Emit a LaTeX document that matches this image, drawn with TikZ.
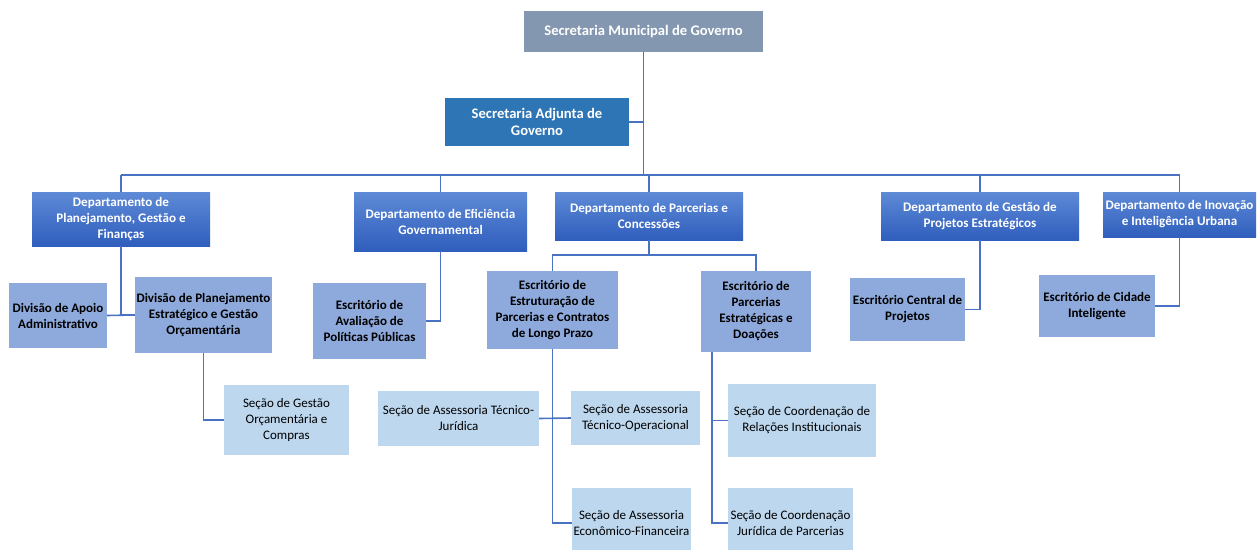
\documentclass[tikz,border=0pt]{standalone}
\usepackage{fontspec}
\setmainfont{Carlito}
\definecolor{topgray}{HTML}{8497B0}
\definecolor{adjblue}{HTML}{2E75B6}
\definecolor{deptop}{HTML}{5E8AD6}
\definecolor{depbot}{HTML}{2F5EBD}
\definecolor{lvlthree}{HTML}{8EA9DB}
\definecolor{lvlfour}{HTML}{BDD7EE}
\definecolor{linkblue}{HTML}{4A72C2}

% #1 style, #2 name, #3 left, #4 top, #5 right, #6 bottom, #7 text
\newcommand\orgbox[7]{%
  \node[#1, minimum width={#5pt-#3pt}, minimum height={#6pt-#4pt}]
    (#2) at ({(#3+#5)/2},{(#4+#6)/2}) {#7};}

\begin{document}
\begin{tikzpicture}[x=1pt,y=-1pt,
  box/.style={inner sep=0pt, align=center, font=\fontsize{13}{16.5}\selectfont},
  headbox/.style={box, fill=topgray, text=white, font=\fontsize{14.6}{17.5}\selectfont\bfseries},
  adjbox/.style={box, fill=adjblue, text=white, font=\fontsize{14.6}{17.7}\selectfont\bfseries},
  deptbox/.style={box, top color=deptop, bottom color=depbot, text=white, font=\fontsize{13.1}{16}\selectfont\bfseries},
  unitbox/.style={box, fill=lvlthree, text=black, font=\fontsize{13}{16}\selectfont\bfseries},
  secbox/.style={box, fill=lvlfour, text=black, font=\fontsize{13}{16}\selectfont},
  link/.style={draw=linkblue, line width=1.6pt}]
\clip (0,0) rectangle (1260,549);
\fill[white] (0,0) rectangle (1260,549);

% top levels
\orgbox{headbox}{smg}{524}{11}{763}{52}{Secretaria Municipal de Governo}
\orgbox{adjbox}{adj}{445}{98}{629}{146}{Secretaria Adjunta de\\Governo}

% departments
\orgbox{deptbox}{d1}{32}{192}{210}{246}{Departamento de\\Planejamento, Gestão e\\Finanças}
\orgbox{deptbox}{d2}{354}{192}{527}{251}{Departamento de Eficiência\\Governamental}
\orgbox{deptbox}{d3}{555}{192}{743}{240}{Departamento de Parcerias e\\Concessões}
\orgbox{deptbox}{d4}{881}{192}{1079}{240}{Departamento de Gestão de\\Projetos Estratégicos}
\orgbox{deptbox}{d5}{1103}{192}{1256}{237}{Departamento de Inovação\\e Inteligência Urbana}

% divisions and offices
\orgbox{unitbox}{div1}{9}{283}{107}{348}{Divisão de Apoio\\Administrativo}
\orgbox{unitbox}{div2}{135}{277}{272}{353}{Divisão de Planejamento\\Estratégico e Gestão\\Orçamentária}
\orgbox{unitbox}{escaval}{313}{283}{426}{359}{Escritório de\\Avaliação de\\Políticas Públicas}
\orgbox{unitbox}{escestr}{487}{271}{618}{349}{Escritório de\\Estruturação de\\Parcerias e Contratos\\de Longo Prazo}
\orgbox{unitbox}{escparc}{701}{271}{811}{352}{Escritório de\\Parcerias\\Estratégicas e\\Doações}
\orgbox{unitbox}{esccentral}{850}{278}{965}{341}{Escritório Central de\\Projetos}
\orgbox{unitbox}{esccidade}{1039}{275}{1155}{337}{Escritório de Cidade\\Inteligente}

% sections
\orgbox{secbox}{secgest}{224}{385}{349}{455}{Seção de Gestão\\Orçamentária e\\Compras}
\orgbox{secbox}{secjur}{378}{391}{539}{446}{Seção de Assessoria Técnico-\\Jurídica}
\orgbox{secbox}{secop}{571}{391}{700}{445}{Seção de Assessoria\\Técnico-Operacional}
\orgbox{secbox}{sececon}{572}{488}{691}{558}{Seção de Assessoria\\Econômico-Financeira}
\orgbox{secbox}{secrel}{728}{384}{876}{457}{Seção de Coordenação de\\Relações Institucionais}
\orgbox{secbox}{secjurp}{728}{488}{853}{558}{Seção de Coordenação\\Jurídica de Parcerias}

% connectors
\coordinate (hub) at (smg.south |- 0,175);
\draw[link] (smg.south) -- (hub);
\draw[link] (adj.east) -- (adj.east -| smg.south);
\draw[link] (d1.north |- hub) -- (d5.north |- hub);
\foreach \d in {d1,d2,d3,d4,d5} \draw[link] (\d.north) -- (\d.north |- hub);

\draw[link] (d1.south) |- (div2.west);
\draw[link] (div1.east) -- (div2.west);
\draw[link] (div2.south) |- (secgest.west);

\draw[link] (d2.south) |- (escaval.east);

\coordinate (pbus) at (d3.south |- 0,255);
\draw[link] (d3.south) -- (pbus);
\draw[link] (escestr.north) -- (escestr.north |- pbus) -| (escparc.north);

\draw[link] (escestr.south) |- (sececon.west);
\draw[link] (secjur.east) -- (secop.west);

\coordinate (ptrunk) at ([xshift=-44pt]escparc.south);
\draw[link] (ptrunk) |- (secjurp.west);
\draw[link] (ptrunk |- secrel.west) -- (secrel.west);

\draw[link] (d4.south) |- (esccentral.east);
\draw[link] (d5.south) |- (esccidade.east);
\end{tikzpicture}
\end{document}
